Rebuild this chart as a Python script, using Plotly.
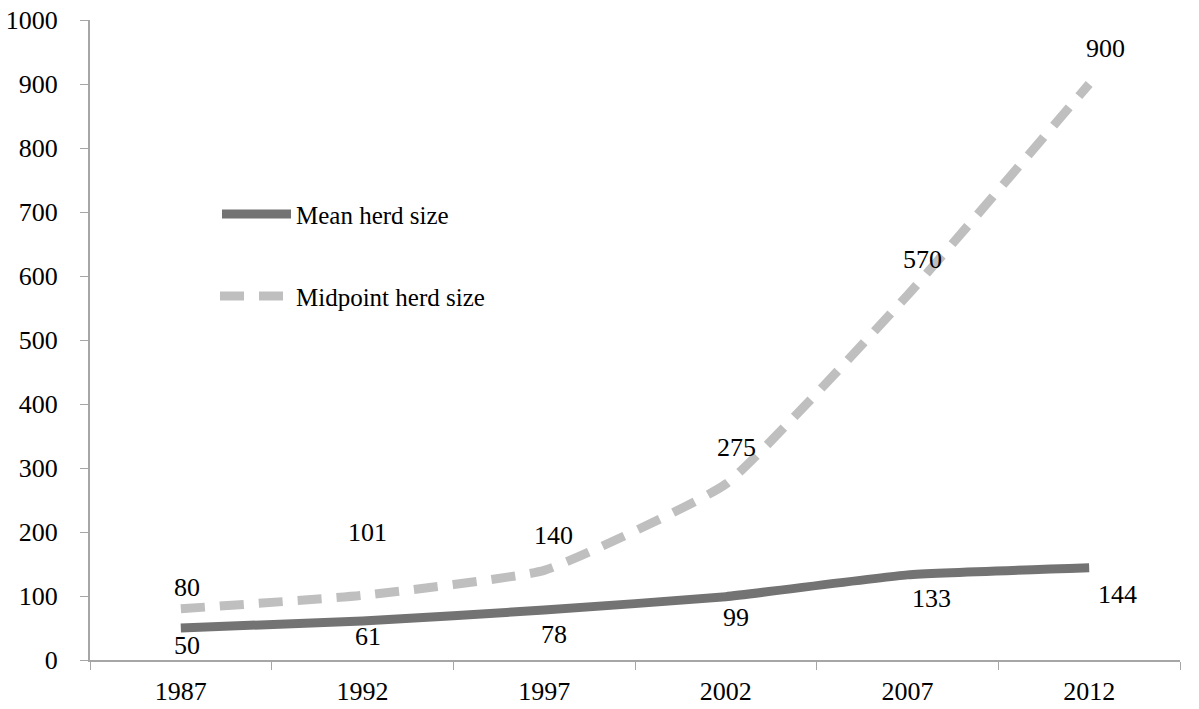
import plotly.graph_objects as go

years = ["1987", "1992", "1997", "2002", "2007", "2012"]
mean_herd = [50, 61, 78, 99, 133, 144]
midpoint_herd = [80, 101, 140, 275, 570, 900]

# per-label pixel offsets for the value labels
mean_label_shift = [(6, -17), (5, -16), (10, -24), (10, -21), (24, -24), (28, -27)]
mid_label_shift = [(6, 21), (5, 63), (9, 35), (11, 37), (15, 36), (16, 36)]

DARK = "#737373"
LIGHT = "#BFBFBF"
AXIS = "#A6A6A6"
FONT = "Liberation Serif"
FS = 26

fig = go.Figure()
fig.add_trace(go.Scatter(
    x=years, y=mean_herd, mode="lines", name="Mean herd size",
    line=dict(color=DARK, width=9, shape="spline", smoothing=0.4),
    showlegend=False,
))
fig.add_trace(go.Scatter(
    x=years, y=midpoint_herd, mode="lines", name="Midpoint herd size",
    line=dict(color=LIGHT, width=9, dash="24px,15px", shape="spline", smoothing=0.4),
    showlegend=False,
))

annotations = []
for i, (v, (dx, dy)) in enumerate(zip(mean_herd, mean_label_shift)):
    annotations.append(dict(x=i, y=v, text=str(v), showarrow=False,
                            xshift=dx, yshift=dy,
                            font=dict(family=FONT, size=FS, color="#000")))
for i, (v, (dx, dy)) in enumerate(zip(midpoint_herd, mid_label_shift)):
    annotations.append(dict(x=i, y=v, text=str(v), showarrow=False,
                            xshift=dx, yshift=dy,
                            font=dict(family=FONT, size=FS, color="#000")))

# legend drawn as line samples with text, placed in plot-area fractions
W, H = 1199, 709
L, R, T, B = 90, 19, 20, 49
def px(x):
    return (x - L) / (W - L - R)
def py(y):
    return (H - B - y) / (H - T - B)

shapes = [
    dict(type="line", xref="paper", yref="paper", x0=px(222), x1=px(291),
         y0=py(214), y1=py(214), line=dict(color=DARK, width=9)),
    dict(type="line", xref="paper", yref="paper", x0=px(220), x1=px(291),
         y0=py(296), y1=py(296), line=dict(color=LIGHT, width=9, dash="24px,15px")),
]
annotations.append(dict(xref="paper", yref="paper", x=px(294), y=py(215),
                        xanchor="left", yanchor="middle", text="Mean herd size",
                        showarrow=False, font=dict(family=FONT, size=25, color="#000")))
annotations.append(dict(xref="paper", yref="paper", x=px(294), y=py(297),
                        xanchor="left", yanchor="middle", text="Midpoint herd size",
                        showarrow=False, font=dict(family=FONT, size=25, color="#000")))

fig.update_layout(
    width=W, height=H,
    margin=dict(l=L, r=R, t=T, b=B, autoexpand=False),
    paper_bgcolor="white", plot_bgcolor="white",
    font=dict(family=FONT, size=FS, color="#000"),
    annotations=annotations, shapes=shapes,
    xaxis=dict(type="category", range=[-0.5, 5.5], tickson="boundaries",
               ticks="outside", ticklen=8, tickcolor=AXIS, showline=True,
               linecolor=AXIS, linewidth=2, showgrid=False, zeroline=False,
               ticklabelstandoff=7, tickfont=dict(family=FONT, size=FS)),
    yaxis=dict(range=[0, 1000], dtick=100, ticks="outside", ticklen=8,
               tickcolor=AXIS, showline=True, linecolor=AXIS, linewidth=2,
               showgrid=False, zeroline=False, ticklabelstandoff=17,
               tickfont=dict(family=FONT, size=FS)),
)

fig.write_html("out.html")
